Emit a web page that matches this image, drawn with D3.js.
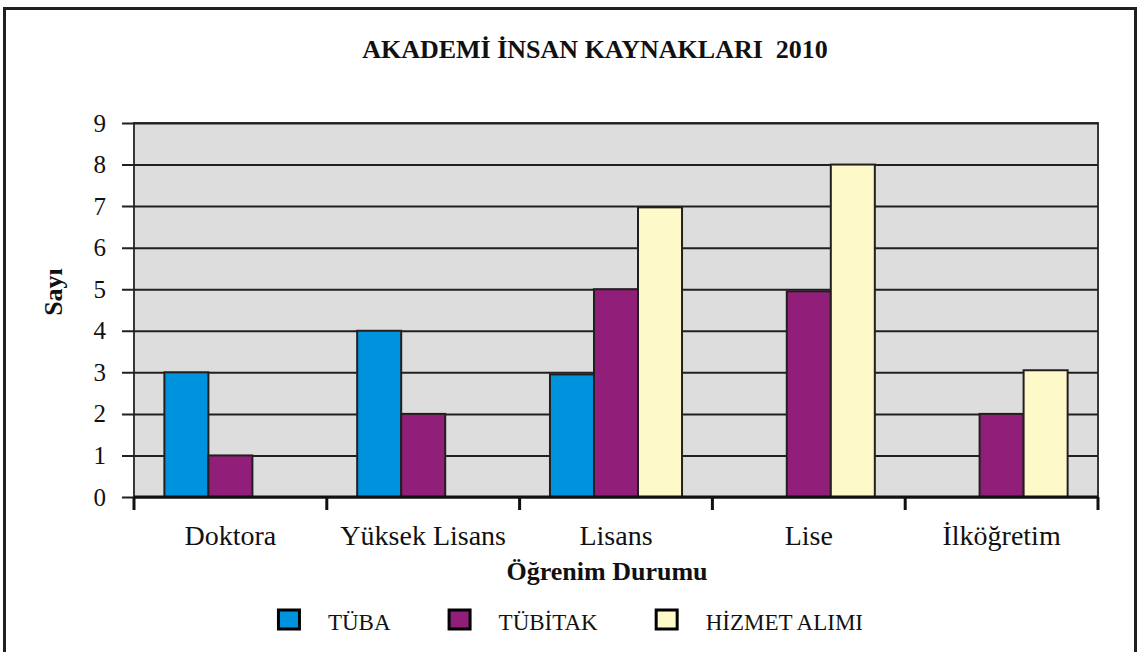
<!DOCTYPE html>
<html>
<head>
<meta charset="utf-8">
<script src="https://cdn.jsdelivr.net/npm/d3@7"></script>
<style>
  body { margin: 0; background: #ffffff; }
  svg text { font-family: "Liberation Serif", "Times New Roman", serif; fill: #111; }
</style>
</head>
<body>
<svg id="chart" width="1137" height="652"></svg>
<script>
// dati
var categories = ["Doktora", "Yüksek Lisans", "Lisans", "Lise", "İlköğretim"];
var seriesNames = ["TÜBA", "TÜBİTAK", "HİZMET ALIMI"];
var tubaValues = [3, 4, 2.95, null, null];
var tubitakValues = [1, 2, 5, 4.95, 2];
var hizmetValues = [null, null, 6.97, 8, 3.05];
var yTicks = [0, 1, 2, 3, 4, 5, 6, 7, 8, 9];
var colors = ["#0093dd", "#911e78", "#fdf9c8"];

var chartTitle = "AKADEMİ İNSAN KAYNAKLARI  2010";
var xTitle = "Öğrenim Durumu";
var yTitle = "Sayı";

var allValues = [tubaValues, tubitakValues, hizmetValues];

var svg = d3.select("#chart"),
    marginLeft = 134,
    plotRight = 1098,
    marginTop = 123,
    plotBottom = 497,
    width = plotRight - marginLeft,
    height = plotBottom - marginTop;

// cornice esterna
svg.append("rect")
    .attr("x", 4.5)
    .attr("y", 8.5)
    .attr("width", 1131)
    .attr("height", 660)
    .style("fill", "#fff")
    .style("stroke", "#231f20")
    .style("stroke-width", 3);

var xScale = d3.scaleBand()
    .domain(categories)
    .range([0, width])
    .padding(0);

var xInner = d3.scaleBand()
    .domain(seriesNames)
    .range([0, xScale.bandwidth()])
    .paddingInner(0)
    .paddingOuter(0.69);

var yScale = d3.scaleLinear()
    .domain([0, 9])
    .range([height, 0]);

var g = svg.append("g")
    .attr("transform", "translate(" + marginLeft + "," + marginTop + ")");

// sfondo grigio
g.append("rect")
    .attr("width", width)
    .attr("height", height)
    .style("fill", "#dddddd")
    .style("stroke", "#3a3636")
    .style("stroke-width", 2);

// asse y con griglia
var yAxis = g.append("g")
    .call(d3.axisLeft(yScale).tickValues(yTicks).tickSize(12).tickPadding(16));
yAxis.select(".domain").remove();
yAxis.selectAll(".tick line")
    .attr("x1", width)
    .style("stroke", "#231f20")
    .style("stroke-width", 2);
yAxis.selectAll(".tick text")
    .style("font-size", "25px")
    .style("font-family", "Liberation Serif");

// barre
var groups = g.selectAll(".cat")
    .data(categories)
    .enter()
    .append("g")
    .attr("class", "cat")
    .attr("transform", function(d) { return "translate(" + xScale(d) + ",0)"; });

groups.selectAll("rect")
    .data(function(d, i) {
        return seriesNames.map(function(s, j) { return {series: s, idx: j, value: allValues[j][i]}; })
            .filter(function(b) { return b.value != null; });
    })
    .enter()
    .append("rect")
    .attr("x", function(d) { return xInner(d.series); })
    .attr("y", function(d) { return yScale(d.value); })
    .attr("width", xInner.bandwidth())
    .attr("height", function(d) { return height - yScale(d.value); })
    .style("fill", function(d) { return colors[d.idx]; })
    .style("stroke", "#231f20")
    .style("stroke-width", 2);

// asse x
var xTickPos = categories.map(function(c) { return xScale(c); }).concat([width]);
var xAxis = g.append("g")
    .attr("transform", "translate(0," + height + ")");
xAxis.append("line")
    .attr("x1", 0)
    .attr("x2", width)
    .style("stroke", "#111")
    .style("stroke-width", 3);
xAxis.selectAll(".xtick")
    .data(xTickPos)
    .enter()
    .append("line")
    .attr("class", "xtick")
    .attr("x1", function(d) { return d; })
    .attr("x2", function(d) { return d; })
    .attr("y1", 0)
    .attr("y2", 13)
    .style("stroke", "#111")
    .style("stroke-width", 3);
xAxis.selectAll(".xlabel")
    .data(categories)
    .enter()
    .append("text")
    .attr("class", "xlabel")
    .attr("x", function(d) { return xScale(d) + xScale.bandwidth() / 2; })
    .attr("y", 48)
    .attr("text-anchor", "middle")
    .style("font-size", "28px")
    .text(function(d) { return d; });

// titoli
svg.append("text")
    .attr("x", 595)
    .attr("y", 58)
    .attr("text-anchor", "middle")
    .style("font-size", "26px")
    .style("font-weight", "bold")
    .style("white-space", "pre")
    .text(chartTitle);

svg.append("text")
    .attr("x", 607)
    .attr("y", 580)
    .attr("text-anchor", "middle")
    .style("font-size", "26px")
    .style("font-weight", "bold")
    .text(xTitle);

svg.append("text")
    .attr("transform", "translate(62,292)rotate(-90)")
    .attr("text-anchor", "middle")
    .style("font-size", "26px")
    .style("font-weight", "bold")
    .text(yTitle);

// legenda
var legend = svg.append("g");
var lx = 0;
seriesNames.forEach(function(s, i) {
    var item = legend.append("g").attr("transform", "translate(" + lx + ",0)");
    item.append("rect")
        .attr("x", 1.5)
        .attr("y", 610)
        .attr("width", 21)
        .attr("height", 19)
        .style("fill", colors[i])
        .style("stroke", "#000")
        .style("stroke-width", 3);
    var t = item.append("text")
        .attr("x", 51)
        .attr("y", 630)
        .style("font-size", "23px")
        .text(s);
    lx += 51 + t.node().getComputedTextLength() + 57;
});
var legendWidth = lx - 57;
legend.attr("transform", "translate(" + (570 - legendWidth / 2) + ",0)");
</script>
</body>
</html>
